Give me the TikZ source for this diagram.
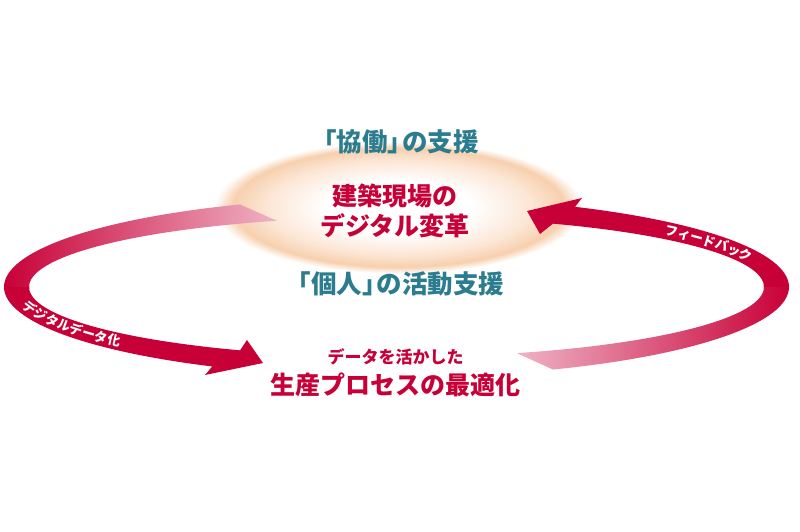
\documentclass[tikz,border=0pt]{standalone}
\usepackage{fontspec}
\newfontfamily\jp{Noto Sans CJK JP}
\usetikzlibrary{decorations.text}

\definecolor{crimson}{HTML}{C80038}
\definecolor{blush}{HTML}{EFB3C5}
\definecolor{petrol}{HTML}{2A7C8E}
\definecolor{peachrim}{HTML}{F7D0AE}
\definecolor{peachmid}{HTML}{FCE6D5}
\pgfdeclareradialshading{glow}{\pgfpoint{0bp}{0bp}}{%
  color(0bp)=(white); color(10bp)=(white); color(18bp)=(peachmid);
  color(22.5bp)=(peachrim); color(25bp)=(white); color(50bp)=(white)}
\newcommand\lblfont{\jp\bfseries\fontsize{13}{13}\selectfont}
\newcommand\brk{\kern-.45em}

\begin{document}
\begin{tikzpicture}[
  x=1pt, y=1pt,
  band/.style={fill=crimson},
  aspect/.style={font=\jp\bfseries\fontsize{25.5}{30}\selectfont,
                 text=petrol, inner sep=0pt},
  core/.style={font=\jp\bfseries\fontsize{25}{30.5}\selectfont,
               text=crimson, align=center, inner sep=0pt},
  lead/.style={font=\jp\bfseries\fontsize{17}{20}\selectfont,
               text=crimson, inner sep=0pt},
  goal/.style={font=\jp\bfseries\fontsize{25}{30}\selectfont,
               text=crimson, inner sep=0pt},
  lbl/.style={decorate, decoration={text along path, text color=white,
              text align=left, raise=-4.7pt}}]

\fill[white] (0,0) rectangle (800,532);
\useasboundingbox (0,0) rectangle (800,532);

% ========================= the glow in the middle =========================
\shade[shading=glow] (398.5,324.5) ellipse [x radius=184, y radius=66];

% ring centre; outer edge 392.5 x 90, inner edge 367.5 x 70
\coordinate (o) at (396.5,245);

% ======================= left: digitalisation arrow =======================
\coordinate (dl1) at (205,157);
\coordinate (dl2) at (263,169);
\coordinate (dl3) at (247,192);
\fill[band] ([shift={(o)}]178:392.5 and 90)
  arc[start angle=178, end angle=242, x radius=392.5, y radius=90]
  -- (dl1) -- (dl2) -- (dl3)
  -- ([shift={(o)}]244.8:367.5 and 70)
  arc[start angle=244.8, end angle=178, x radius=367.5, y radius=70] -- cycle;
\shade[left color=crimson, right color=blush] ([shift={(o)}]113.5:392.5 and 90)
  arc[start angle=113.5, end angle=180, x radius=392.5, y radius=90]
  -- ([shift={(o)}]180:367.5 and 70)
  arc[start angle=180, end angle=109, x radius=367.5, y radius=70] -- cycle;

% ======================== right: feedback arrow ===========================
\coordinate (dr1) at (582,334);
\coordinate (dr2) at (527,321);
\coordinate (dr3) at (540,298);
\fill[band] ([shift={(o)}]-2:392.5 and 90)
  arc[start angle=-2, end angle=62.95, x radius=392.5, y radius=90]
  -- (dr1) -- (dr2) -- (dr3)
  -- ([shift={(o)}]64.8:367.5 and 70)
  arc[start angle=64.8, end angle=-2, x radius=367.5, y radius=70] -- cycle;
\shade[left color=blush, right color=crimson] ([shift={(o)}]0:392.5 and 90)
  arc[start angle=0, end angle=-66.5, x radius=392.5, y radius=90]
  -- ([shift={(o)}]-70.9:367.5 and 70)
  arc[start angle=-70.9, end angle=0, x radius=367.5, y radius=70] -- cycle;

% labels riding on the arrows
\path[lbl, decoration={text={|\lblfont|デジタルデータ化}}]
  ([shift={(o)}]192:380 and 80)
  arc[start angle=192, end angle=250, x radius=380, y radius=80];
\path[lbl, decoration={text={|\lblfont|フィードバック}}]
  ([shift={(o)}]45:380 and 80)
  arc[start angle=45, end angle=0, x radius=380, y radius=80];

% ================================ texts ===================================
\node[aspect] (collab) at (395,390) {「協働」\brk の支援};
\node[core]   (dx)     at (395,321) {建築現場の\\デジタル変革};
\node[aspect] (solo)   at (395,248) {「個人」\brk の活動支援};
\node[lead]   (data)   at (395.5,175.5) {データを活かした};
\node[goal]   (prod)   at (395,147) {生産プロセスの最適化};

\end{tikzpicture}
\end{document}
